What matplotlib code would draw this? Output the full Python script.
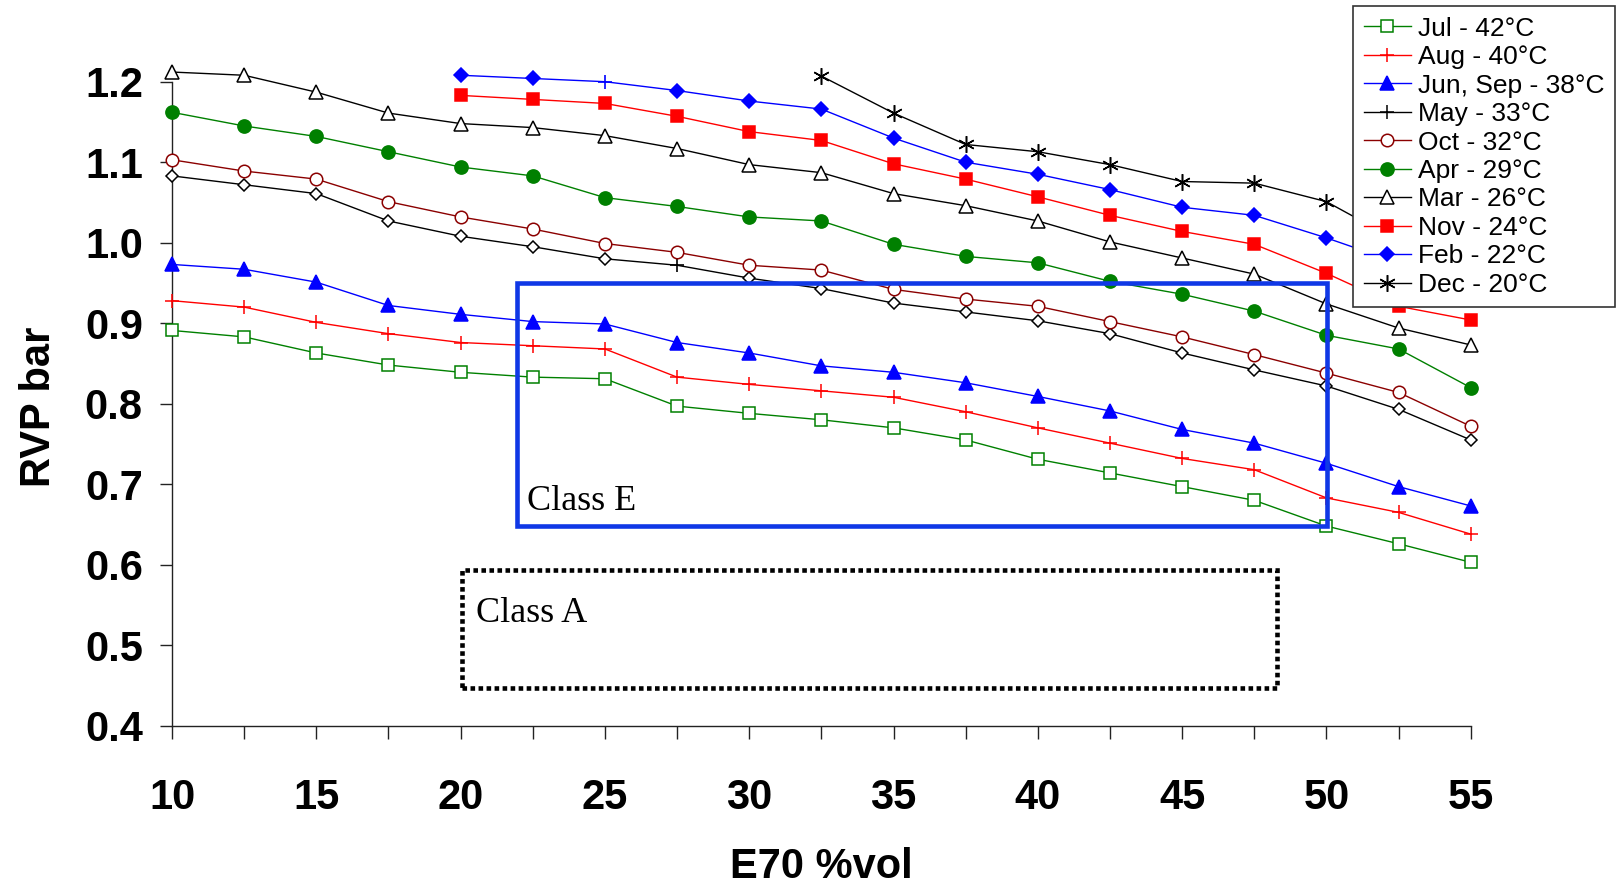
import matplotlib
matplotlib.use("Agg")
import matplotlib.pyplot as plt
from matplotlib.lines import Line2D
from matplotlib.patches import Rectangle
from matplotlib import font_manager

# ---------------- data ----------------
x_all = [10, 12.5, 15, 17.5, 20, 22.5, 25, 27.5, 30, 32.5, 35, 37.5, 40, 42.5, 45, 47.5, 50, 52.5, 55]
x_from20 = [20, 22.5, 25, 27.5, 30, 32.5, 35, 37.5, 40, 42.5, 45, 47.5, 50, 52.5, 55]
x_from32 = [32.5, 35, 37.5, 40, 42.5, 45, 47.5, 50, 52.5, 55]

jul = [0.891, 0.883, 0.863, 0.848, 0.839, 0.833, 0.831, 0.797, 0.788, 0.780, 0.770, 0.755, 0.731, 0.714, 0.697, 0.680, 0.648, 0.626, 0.603]
aug = [0.928, 0.920, 0.901, 0.887, 0.876, 0.872, 0.868, 0.833, 0.824, 0.816, 0.808, 0.790, 0.770, 0.751, 0.732, 0.718, 0.683, 0.665, 0.638]
jun_sep = [0.973, 0.967, 0.951, 0.922, 0.911, 0.902, 0.899, 0.876, 0.863, 0.847, 0.839, 0.826, 0.809, 0.791, 0.768, 0.751, 0.726, 0.697, 0.673]
may = [1.083, 1.072, 1.061, 1.027, 1.008, 0.995, 0.980, 0.972, 0.956, 0.943, 0.925, 0.914, 0.903, 0.887, 0.863, 0.842, 0.822, 0.793, 0.755]
oct_ = [1.103, 1.089, 1.079, 1.051, 1.032, 1.017, 0.999, 0.988, 0.972, 0.966, 0.942, 0.930, 0.921, 0.902, 0.883, 0.861, 0.838, 0.814, 0.772]
apr = [1.162, 1.145, 1.132, 1.113, 1.094, 1.083, 1.056, 1.045, 1.032, 1.027, 0.998, 0.983, 0.975, 0.952, 0.936, 0.915, 0.885, 0.868, 0.820]
mar = [1.212, 1.208, 1.187, 1.161, 1.148, 1.143, 1.133, 1.117, 1.097, 1.087, 1.061, 1.046, 1.027, 1.001, 0.981, 0.961, 0.924, 0.894, 0.873]
nov = [1.183, 1.178, 1.173, 1.157, 1.138, 1.127, 1.098, 1.079, 1.057, 1.034, 1.014, 0.998, 0.962, 0.921, 0.904]
feb = [1.208, 1.204, 1.200, 1.189, 1.176, 1.166, 1.130, 1.100, 1.085, 1.066, 1.044, 1.034, 1.006, 0.975, 0.945]
dec = [1.207, 1.161, 1.122, 1.113, 1.097, 1.076, 1.074, 1.051, 1.002, 0.980]

labels = ["Jul - 42°C", "Aug - 40°C", "Jun, Sep - 38°C", "May - 33°C", "Oct - 32°C",
          "Apr - 29°C", "Mar - 26°C", "Nov - 24°C", "Feb - 22°C", "Dec - 20°C"]

y_ticks = [0.4, 0.5, 0.6, 0.7, 0.8, 0.9, 1.0, 1.1, 1.2]
x_major = [10, 15, 20, 25, 30, 35, 40, 45, 50, 55]

# ---------------- style ----------------
GREEN = "#008000"
RED = "#FF0000"
BLUE = "#0000FF"
BLACK = "#000000"
DRED = "#8B0000"
BOXBLUE = "#1038E6"

avail = {f.name for f in font_manager.fontManager.ttflist}
SANS = "Liberation Sans" if "Liberation Sans" in avail else "DejaVu Sans"
SERIF = "Liberation Serif" if "Liberation Serif" in avail else "DejaVu Serif"
plt.rcParams["font.family"] = [SANS, "DejaVu Sans"]

W, H = 1617, 885
fig = plt.figure(figsize=(W / 100, H / 100), dpi=100)
ax = fig.add_axes([172 / W, 1 - 725.7 / H, (1470.7 - 172) / W, (725.7 - 81.7) / H])

ASTER = (6, 2, 0)

series = [
    # x, y, color, marker, mfc, ms, alt-marker indices
    (x_all, jul, GREEN, "s", "white", 9, []),
    (x_all, aug, RED, "+", RED, 10, []),
    (x_all, jun_sep, BLUE, "^", BLUE, 10, []),
    (x_all, may, BLACK, "D", "white", 6.5, [7]),
    (x_all, oct_, DRED, "o", "white", 9, []),
    (x_all, apr, GREEN, "o", GREEN, 9.5, []),
    (x_all, mar, BLACK, "^", "white", 10, []),
    (x_from20, nov, RED, "s", RED, 9, []),
    (x_from20, feb, BLUE, "D", BLUE, 7, [2]),
    (x_from32, dec, BLACK, ASTER, BLACK, 12, []),
]

legend_markers = ["s", "+", "^", "+", "o", "o", "^", "s", "D", ASTER]

handles = []
for (xs, ys, col, mk, mfc, ms, alt), lab, lmk in zip(series, labels, legend_markers):
    ax.plot(xs, ys, color=col, lw=1.0, zorder=2, clip_on=False)
    main_idx = [i for i in range(len(xs)) if i not in alt]
    ax.plot([xs[i] for i in main_idx], [ys[i] for i in main_idx], ls="none",
            marker=mk, ms=ms, mfc=mfc, mec=col, mew=1.1, zorder=3, clip_on=False)
    if alt:
        ax.plot([xs[i] for i in alt], [ys[i] for i in alt], ls="none",
                marker="+", ms=10, mec=col, mew=1.2, zorder=3, clip_on=False)
    lms = 10 if lmk == "+" else ms
    lmfc = mfc if lmk == mk else col
    handles.append(Line2D([0], [0], color=col, lw=1.0, marker=lmk, ms=lms,
                          mfc=lmfc, mec=col, mew=1.1))

# Class boxes
ax.add_patch(Rectangle((21.94, 0.648), 50.02 - 21.94, 0.9497 - 0.648, fill=False,
                       ec=BOXBLUE, lw=3.3, zorder=5, clip_on=False))
ax.add_patch(Rectangle((20.04, 0.4466), 48.28 - 20.04, 0.593 - 0.4466, fill=False,
                       ec=BLACK, lw=3.3, ls=(0, (1.0, 0.75)), zorder=5, clip_on=False,
                       capstyle="butt"))
ax.text(22.29, 0.6675, "Class E", family=SERIF, fontsize=26, va="baseline", ha="left", zorder=6)
ax.text(20.53, 0.5288, "Class A", family=SERIF, fontsize=26, va="baseline", ha="left", zorder=6)

# axes
ax.set_xlim(10, 55)
ax.set_ylim(0.4, 1.2)
for s in ["top", "right"]:
    ax.spines[s].set_visible(False)
for s in ["left", "bottom"]:
    ax.spines[s].set_color("#222222")
    ax.spines[s].set_linewidth(1.0)

ax.set_xticks(x_major)
ax.set_xticklabels([str(v) for v in x_major])
ax.set_xticks(x_all, minor=True)
ax.set_yticks(y_ticks)
ax.set_yticklabels([f"{v:.1f}" for v in y_ticks])
ax.tick_params(axis="x", which="both", direction="out", length=9.5, width=1.0, color="#222222")
ax.tick_params(axis="x", which="major", pad=28, labelsize=30)
ax.tick_params(axis="y", which="major", direction="out", length=9, width=1.0, color="#222222",
               pad=12, labelsize=30)
for lab in ax.get_xticklabels() + ax.get_yticklabels():
    lab.set_fontweight("bold")

fig.text(821 / W, 1 - 878 / H, "E70 %vol", fontsize=30, fontweight="bold",
         ha="center", va="baseline")
fig.text(50 / W, 1 - 407 / H, "RVP bar", fontsize=30, fontweight="bold",
         ha="center", va="baseline", rotation=90, rotation_mode="anchor")

leg = fig.legend(handles, labels, loc="upper left",
                 bbox_to_anchor=(1353 / W, 1 - 6 / H), bbox_transform=fig.transFigure,
                 borderaxespad=0, fontsize=19, frameon=True, fancybox=False,
                 edgecolor="#333333", framealpha=1, labelspacing=0.17,
                 handlelength=1.8, handletextpad=0.25, borderpad=0.4)
leg.get_frame().set_linewidth(1.2)

fig.savefig("out.png", dpi=100)
